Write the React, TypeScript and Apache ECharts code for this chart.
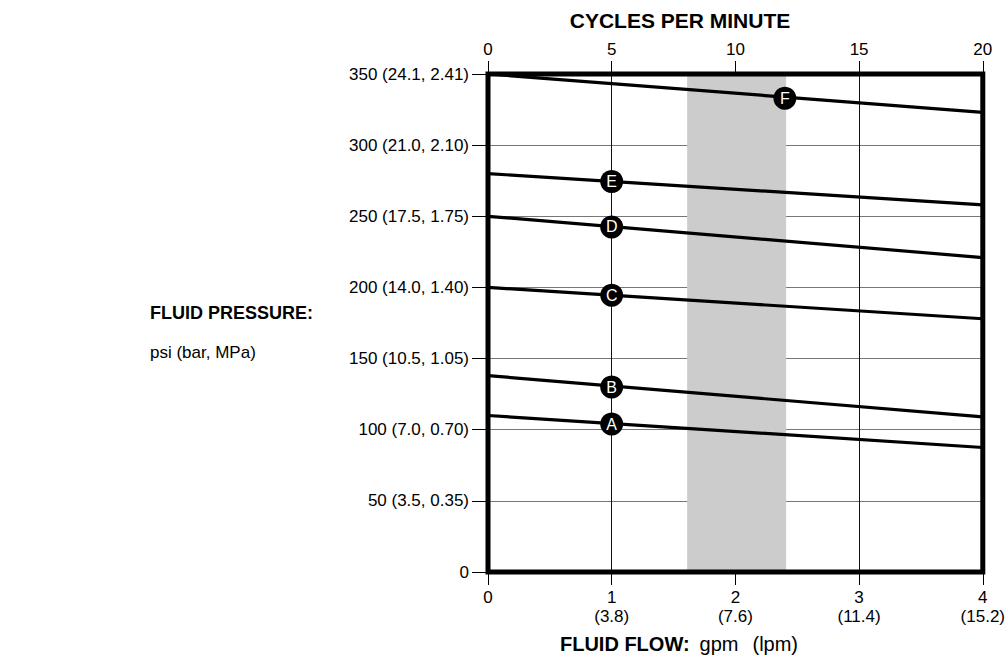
import React, { useEffect, useRef } from "react";
import * as echarts from "echarts";

const gpmTicks = [0, 1, 2, 3, 4];
const lpmLabels = ["", "(3.8)", "(7.6)", "(11.4)", "(15.2)"];
const cpmTicks = [0, 5, 10, 15, 20];
const psiTicks = [0, 50, 100, 150, 200, 250, 300, 350];
const barMpaLabels = ["", "(3.5, 0.35)", "(7.0, 0.70)", "(10.5, 1.05)", "(14.0, 1.40)", "(17.5, 1.75)", "(21.0, 2.10)", "(24.1, 2.41)"];

const curveNames = ["A", "B", "C", "D", "E", "F"];
const curveStartPsi = [110, 138, 200, 250, 280, 350];
const curveEndPsi = [87.5, 109, 178, 221, 258, 323];
const markerGpm = [1, 1, 1, 1, 1, 2.4];
const markerPsi = [104, 130, 194.5, 242.5, 274.5, 333];
const bandGpm = [1.61, 2.41];

const FONT = "'Liberation Sans', Arial, Helvetica, sans-serif";

export default function App() {
  const ref = useRef<HTMLDivElement>(null);
  useEffect(() => {
    if (!ref.current) return;
    const chart = echarts.init(ref.current, undefined, { renderer: "svg" });
    const lineSeries = curveNames.map((n, i) => ({
      name: n,
      type: "line",
      xAxisIndex: 0,
      yAxisIndex: 0,
      data: [
        [gpmTicks[0], curveStartPsi[i]],
        [gpmTicks[gpmTicks.length - 1], curveEndPsi[i]],
      ],
      symbol: "none",
      lineStyle: { color: "#000", width: 3.2 },
      z: 3,
    }));
    chart.setOption({
      animation: false,
      textStyle: { fontFamily: FONT },
      grid: {
        left: 488,
        right: 22,
        top: 74,
        bottom: 89,
        show: true,
        borderColor: "#000",
        borderWidth: 5,
        backgroundColor: "transparent",
        z: 4,
      },
      xAxis: [
        {
          type: "value",
          position: "bottom",
          min: 0,
          max: 4,
          interval: 1,
          axisLine: { show: false },
          axisTick: { show: true, length: 13, lineStyle: { color: "#000", width: 1 } },
          axisLabel: {
            margin: 16,
            fontSize: 17,
            lineHeight: 19,
            color: "#000",
            fontFamily: FONT,
            formatter: (v: number) => {
              const i = gpmTicks.indexOf(v);
              return lpmLabels[i] ? `${v}\n${lpmLabels[i]}` : `${v}`;
            },
          },
          splitLine: { show: true, lineStyle: { color: "#111", width: 1 } },
        },
        {
          type: "value",
          position: "top",
          min: cpmTicks[0],
          max: cpmTicks[cpmTicks.length - 1],
          interval: 5,
          axisLine: { show: false },
          axisTick: { show: true, length: 13, lineStyle: { color: "#000", width: 1 } },
          axisLabel: { margin: 16, fontSize: 17, color: "#000", fontFamily: FONT },
          splitLine: { show: false },
        },
      ],
      yAxis: {
        type: "value",
        min: 0,
        max: 350,
        interval: 50,
        axisLine: { show: false },
        axisTick: { show: true, length: 16, lineStyle: { color: "#000", width: 1 } },
        axisLabel: {
          margin: 19,
          fontSize: 17,
          color: "#000",
          fontFamily: FONT,
          formatter: (v: number) => {
            const i = psiTicks.indexOf(v);
            return barMpaLabels[i] ? `${v} ${barMpaLabels[i]}` : `${v}`;
          },
        },
        splitLine: { show: true, lineStyle: { color: "#777", width: 1 } },
      },
      series: [
        {
          type: "line",
          name: "band",
          xAxisIndex: 0,
          yAxisIndex: 0,
          data: [],
          z: -1,
          markArea: {
            silent: true,
            itemStyle: { color: "#cccccc" },
            data: [[{ xAxis: bandGpm[0] }, { xAxis: bandGpm[1] }]],
          },
        },
        ...lineSeries,
        {
          type: "scatter",
          name: "markers",
          xAxisIndex: 0,
          yAxisIndex: 0,
          symbol: "circle",
          symbolSize: 23,
          itemStyle: { color: "#000", opacity: 1 },
          z: 5,
          label: {
            show: true,
            position: "inside",
            color: "#fff",
            fontSize: 16,
            fontFamily: FONT,
            formatter: (p: any) => p.data[2],
          },
          data: curveNames.map((n, i) => [markerGpm[i], markerPsi[i], n]),
        },
      ],
      graphic: [
        {
          type: "text",
          x: 680,
          y: 20,
          style: {
            text: "CYCLES PER MINUTE",
            align: "center",
            verticalAlign: "middle",
            fontSize: 21,
            fontWeight: "bold",
            fontFamily: FONT,
            fill: "#000",
          },
        },
        {
          type: "text",
          x: 679,
          y: 644,
          style: {
            text: "{b|FLUID FLOW:}{n|gpm}{n2|(lpm)}",
            align: "center",
            verticalAlign: "middle",
            rich: {
              b: { fontSize: 20, fontWeight: "bold", fontFamily: FONT, fill: "#000", padding: [0, 10, 0, 0] },
              n: { fontSize: 20, fontFamily: FONT, fill: "#000", padding: [0, 14, 0, 0] },
              n2: { fontSize: 20, fontFamily: FONT, fill: "#000" },
            },
          },
        },
        {
          type: "text",
          x: 150,
          y: 313,
          style: {
            text: "FLUID PRESSURE:",
            align: "left",
            verticalAlign: "middle",
            fontSize: 18,
            fontWeight: "bold",
            fontFamily: FONT,
            fill: "#000",
          },
        },
        {
          type: "text",
          x: 150,
          y: 352,
          style: {
            text: "psi (bar, MPa)",
            align: "left",
            verticalAlign: "middle",
            fontSize: 17,
            fontFamily: FONT,
            fill: "#000",
          },
        },
      ],
    });
    return () => chart.dispose();
  }, []);
  return (
    <div
      ref={ref}
      style={{ position: "fixed", left: 0, top: 0, width: 1008, height: 661, background: "#fff" }}
    />
  );
}
